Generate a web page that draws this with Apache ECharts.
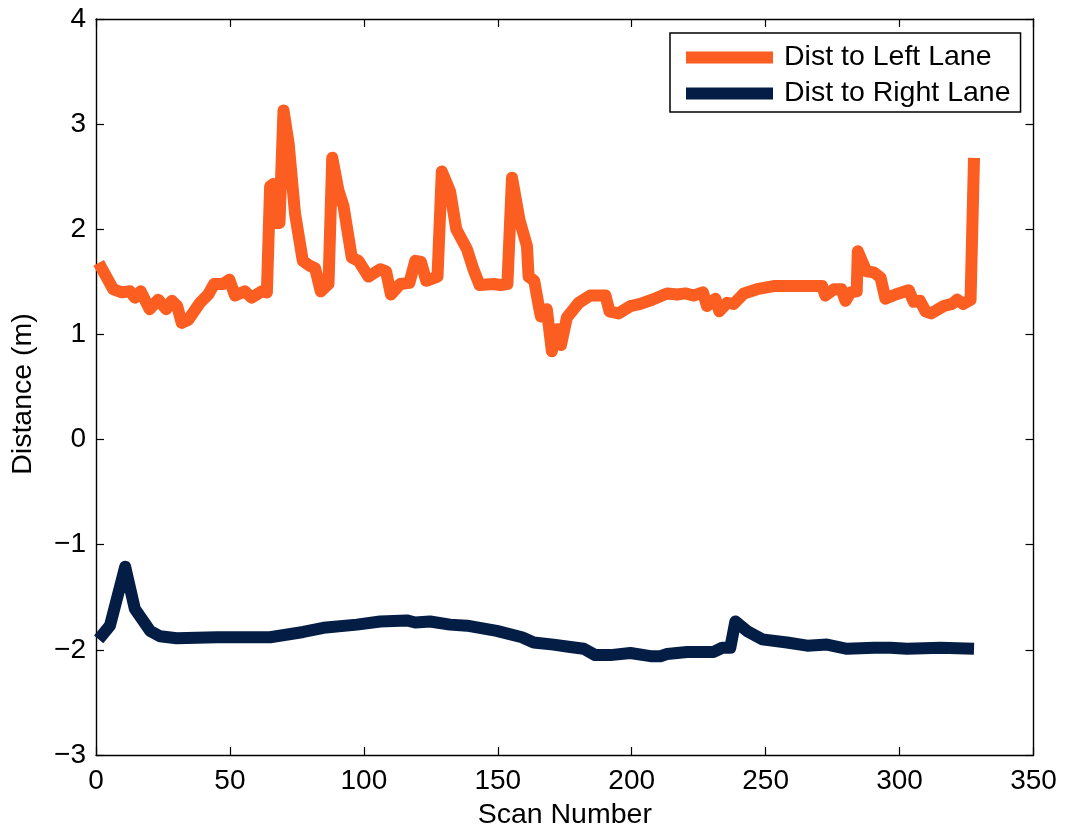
<!DOCTYPE html>
<html>
<head>
<meta charset="utf-8">
<script src="https://cdn.jsdelivr.net/npm/echarts@6/dist/echarts.min.js"></script>
<style>
  html, body { margin: 0; padding: 0; background: #fff; }
  #chart { width: 1067px; height: 835px; }
</style>
</head>
<body>
<div id="chart"></div>
<script>
// Lateral distance from the vehicle to each lane marking, per scan.
const seriesNames = ['Dist to Left Lane', 'Dist to Right Lane'];

const leftLane = [
  [1,1.68],[6.4,1.43],[9.6,1.40],[12.7,1.41],[14.5,1.35],[16.7,1.41],[20.0,1.24],[23.2,1.33],
  [26.2,1.24],[28.3,1.32],[30.3,1.27],[32.0,1.11],[34.5,1.14],[38.8,1.30],[41.9,1.38],[44.1,1.48],
  [47.5,1.48],[49.8,1.52],[51.9,1.37],[55.6,1.41],[58.1,1.35],[61.9,1.41],[63.8,1.40],[65.0,2.41],
  [66.2,2.43],[67.5,2.06],[68.5,2.06],[70.0,3.13],[71.9,2.82],[74.3,2.15],[77.2,1.70],[80.0,1.65],
  [81.8,1.63],[83.9,1.41],[86.8,1.48],[88.2,2.68],[90.5,2.37],[92.4,2.22],[95.5,1.73],[98.0,1.70],
  [101.7,1.55],[106.1,1.62],[108.3,1.60],[110.1,1.38],[113.6,1.48],[117.0,1.49],[119.2,1.70],[121.3,1.69],
  [123.3,1.51],[127.5,1.55],[129.1,2.55],[132.2,2.36],[134.5,2.00],[138.5,1.81],[140.9,1.62],[143.2,1.47],
  [148.5,1.48],[150.9,1.47],[153.6,1.48],[155.3,2.49],[158.1,2.09],[160.9,1.84],[161.5,1.55],[163.6,1.51],
  [165.3,1.27],[166.1,1.17],[168.3,1.24],[170.2,0.84],[172.1,1.05],[173.6,0.90],[175.8,1.16],[178.3,1.24],
  [180.2,1.30],[184.5,1.37],[190.2,1.37],[191.7,1.22],[195.1,1.20],[199.5,1.27],[203.2,1.29],[207.6,1.33],
  [213.2,1.39],[217.0,1.38],[220.0,1.39],[223.1,1.37],[226.6,1.40],[228.1,1.27],[231.2,1.34],[232.7,1.22],
  [235.6,1.30],[238.1,1.29],[241.9,1.39],[246.8,1.43],[253.0,1.46],[262.9,1.46],[271.1,1.46],[272.3,1.37],
  [275.5,1.43],[278.3,1.43],[279.8,1.32],[281.7,1.40],[284.0,1.41],[284.4,1.79],[287.6,1.60],[290.4,1.59],
  [292.9,1.54],[294.7,1.34],[298.5,1.38],[303.4,1.42],[305.3,1.31],[307.6,1.32],[309.7,1.22],[311.8,1.20],
  [316.5,1.27],[319.6,1.29],[321.5,1.33],[323.7,1.29],[326.5,1.33],[327.8,2.68]
];

const rightLane = [
  [1,-1.90],[5.2,-1.77],[10.9,-1.21],[14.5,-1.61],[20.2,-1.82],[23.9,-1.87],[30.1,-1.89],[45.1,-1.88],
  [65.0,-1.88],[77.4,-1.83],[84.9,-1.79],[97.4,-1.76],[106.1,-1.73],[116.0,-1.72],[119.2,-1.74],[124.7,-1.73],
  [132.2,-1.76],[138.5,-1.77],[149.6,-1.82],[159.0,-1.88],[163.4,-1.93],[170.8,-1.95],[176.4,-1.97],[182.1,-1.99],
  [186.4,-2.05],[192.0,-2.05],[199.5,-2.03],[207.0,-2.06],[210.7,-2.06],[213.2,-2.04],[220.7,-2.02],[230.6,-2.02],
  [233.8,-1.98],[236.8,-1.98],[238.7,-1.73],[243.0,-1.82],[248.7,-1.90],[258.0,-1.93],[265.5,-1.96],[272.9,-1.95],
  [280.4,-1.99],[290.4,-1.98],[296.6,-1.98],[302.8,-1.99],[315.3,-1.98],[327.8,-1.99]
];

const xTicks = [0, 50, 100, 150, 200, 250, 300, 350];
const yTicks = [-3, -2, -1, 0, 1, 2, 3, 4];

const FONT = '"Liberation Sans", Arial, Helvetica, sans-serif';
const FS = 28;
const FS_TEXT = 28.5;
const ORANGE = '#FC5D20';
const NAVY = '#041D44';

const fmtY = v => (v < 0 ? '\u2212' + Math.abs(v) : String(v));

const axisCommon = (isX, extra) => Object.assign({
  type: 'value',
  min: isX ? xTicks[0] : yTicks[0],
  max: isX ? xTicks[xTicks.length - 1] : yTicks[yTicks.length - 1],
  interval: isX ? xTicks[1] - xTicks[0] : yTicks[1] - yTicks[0],
  axisLine: { show: true, onZero: false, lineStyle: { color: '#000', width: 1.4 } },
  axisTick: { show: true, inside: true, length: 8, lineStyle: { color: '#000', width: 1.2 } },
  splitLine: { show: false },
  axisLabel: { show: false }
}, extra);

const chart = echarts.init(document.getElementById('chart'), null, { renderer: 'canvas' });

chart.setOption({
  backgroundColor: '#fff',
  animation: false,
  textStyle: { fontFamily: FONT },
  grid: { left: 96, right: 33.5, top: 19, bottom: 77.5, containLabel: false },
  legend: {
    orient: 'vertical',
    left: 670,
    top: 33,
    data: seriesNames,
    icon: 'rect',
    itemWidth: 87,
    itemHeight: 12,
    itemGap: 7,
    padding: [10, 10, 4, 16],
    borderColor: '#000',
    borderWidth: 1.5,
    backgroundColor: '#fff',
    textStyle: { fontFamily: FONT, fontSize: FS_TEXT, color: '#000', lineHeight: 27, padding: [0, 0, 0, 6] }
  },
  xAxis: [
    axisCommon(true, {
      position: 'bottom',
      name: 'Scan Number',
      nameLocation: 'middle',
      nameGap: 46,
      nameTextStyle: { fontFamily: FONT, fontSize: FS_TEXT, color: '#000' },
      axisLabel: { show: true, margin: 12, fontFamily: FONT, fontSize: FS, color: '#000' }
    }),
    axisCommon(true, { position: 'top' })
  ],
  yAxis: [
    axisCommon(false, {
      position: 'left',
      name: 'Distance (m)',
      nameLocation: 'middle',
      nameGap: 58,
      nameTextStyle: { fontFamily: FONT, fontSize: FS_TEXT, color: '#000', padding: [0, 14, 0, 0] },
      axisLabel: { show: true, margin: 10, fontFamily: FONT, fontSize: FS, color: '#000', formatter: fmtY }
    }),
    axisCommon(false, { position: 'right' })
  ],
  series: [
    {
      name: seriesNames[0],
      type: 'line',
      xAxisIndex: 0,
      yAxisIndex: 0,
      data: leftLane,
      showSymbol: false,
      color: ORANGE,
      lineStyle: { color: ORANGE, width: 12, cap: 'butt', join: 'round' },
      z: 3
    },
    {
      name: seriesNames[1],
      type: 'line',
      xAxisIndex: 0,
      yAxisIndex: 0,
      data: rightLane,
      showSymbol: false,
      color: NAVY,
      lineStyle: { color: NAVY, width: 12, cap: 'butt', join: 'round' },
      z: 3
    }
  ]
});
</script>
</body>
</html>
